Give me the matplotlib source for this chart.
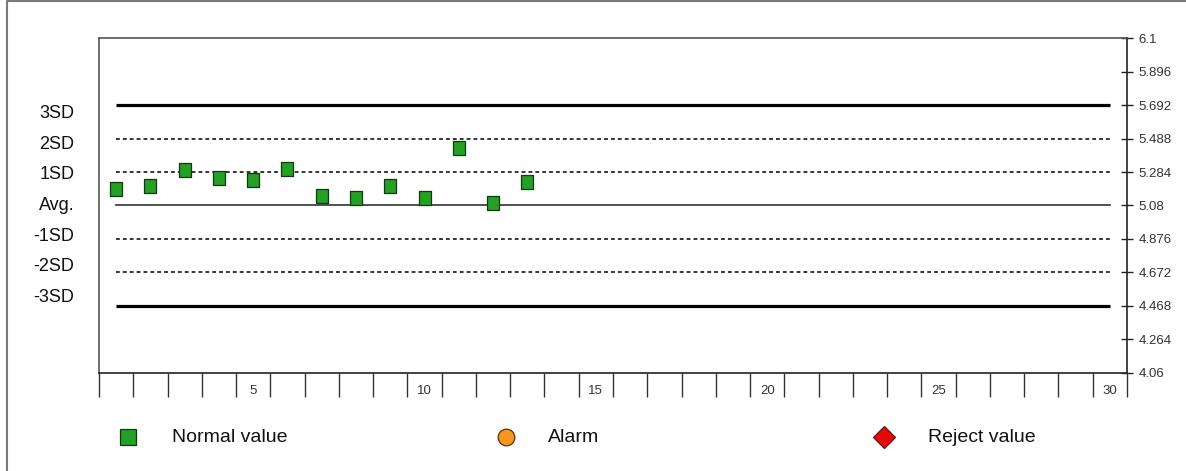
import matplotlib
matplotlib.use("Agg")
import matplotlib.pyplot as plt
import numpy as np

plt.rcParams['font.family'] = ['Liberation Sans', 'DejaVu Sans']

# ---- data ----
run_numbers = list(range(1, 14))
values = [5.182, 5.201, 5.295, 5.248, 5.237, 5.304, 5.136, 5.124, 5.201, 5.124, 5.429, 5.097, 5.221]
mean_value = 5.08
sd_value = 0.204
y_min, y_max = 4.06, 6.1
n_runs = 30
sd_labels = ["3SD", "2SD", "1SD", "Avg.", "-1SD", "-2SD", "-3SD"]
sd_multipliers = [3, 2, 1, 0, -1, -2, -3]
x_tick_labels = [5, 10, 15, 20, 25, 30]
legend_labels = ["Normal value", "Alarm", "Reject value"]

W, H = 1186, 471
fig = plt.figure(figsize=(W / 100, H / 100), dpi=100)
fig.patch.set_facecolor("white")

# axes placement (pixels)
left_px, right_px, top_px, bottom_px = 99, 1127, 38.3, 372.7
ax = fig.add_axes([left_px / W, 1 - bottom_px / H, (right_px - left_px) / W, (bottom_px - top_px) / H])
ax.set_xlim(0.5, n_runs + 0.5)
ax.set_ylim(y_min, y_max)

# spines
for s in ["top", "left"]:
    ax.spines[s].set_color("#555555")
    ax.spines[s].set_linewidth(1.2)
for s in ["bottom", "right"]:
    ax.spines[s].set_color("#222222")
    ax.spines[s].set_linewidth(1.2)

# right y axis ticks
yticks = np.round(np.linspace(y_min, y_max, 11), 3)
ax.yaxis.tick_right()
ax.set_yticks(yticks)
ax.set_yticklabels([f"{t:g}" for t in yticks])
ax.tick_params(axis="y", which="major", direction="inout", length=9, width=1, color="#222222",
               labelsize=9.5, labelcolor="#333333", pad=4)

# x axis: ticks at category boundaries, labels at centres
ax.set_xticks(np.arange(0.5, n_runs + 1, 1.0))
ax.set_xticklabels([])
ax.tick_params(axis="x", which="major", direction="out", length=17, width=1, color="#333333")
ax.set_xticks(x_tick_labels, minor=True)
ax.set_xticklabels([str(v) for v in x_tick_labels], minor=True)
ax.tick_params(axis="x", which="minor", length=0, labelsize=9.5, labelcolor="#333333", pad=9)

# control lines
x_line = [1, n_runs]
for m in sd_multipliers:
    yv = mean_value + m * sd_value
    if abs(m) == 3:
        ax.plot(x_line, [yv, yv], color="black", lw=2.3, solid_capstyle="butt")
    elif m == 0:
        ax.plot(x_line, [yv, yv], color="#333333", lw=1.2)
    else:
        ax.plot(x_line, [yv, yv], color="black", lw=1.1, linestyle=(0, (2.5, 2.0)))

# left SD labels (evenly spaced)
for lbl, m in zip(sd_labels, sd_multipliers):
    ax.text(-0.024, mean_value + m * sd_value * 0.915, lbl, transform=ax.get_yaxis_transform(),
            ha="right", va="center", fontsize=13, color="#111111")

# data points (tall green rectangles)
rect_marker = [(-0.45, -0.5), (0.45, -0.5), (0.45, 0.5), (-0.45, 0.5), (-0.45, -0.5)]
ax.plot(run_numbers, values, linestyle="none", marker=rect_marker, markersize=9.6,
        markerfacecolor="#24a024", markeredgecolor="#123812", markeredgewidth=0.9, zorder=5)

# overlay axes for legend and outer frame (pixel coordinates)
lax = fig.add_axes([0, 0, 1, 1], zorder=-1)
lax.set_xlim(0, W)
lax.set_ylim(H, 0)
lax.axis("off")
lax.plot([7, 7, W + 5], [H + 5, 1.2, 1.2], color="#7a7a7a", lw=1.5)

legend_y = 437
lax.plot([127.5], [legend_y], marker="s", markersize=11.5, markerfacecolor="#24a024",
         markeredgecolor="#123812", markeredgewidth=0.9)
lax.plot([506], [legend_y], marker="o", markersize=12, markerfacecolor="#f5961e",
         markeredgecolor="#5a3010", markeredgewidth=0.9)
lax.plot([884], [legend_y], marker="D", markersize=11.5, markerfacecolor="#e00c0c",
         markeredgecolor="#7a0a0a", markeredgewidth=0.9)
for lx, lbl in zip([172, 548, 928], legend_labels):
    lax.text(lx, legend_y, lbl, ha="left", va="center", fontsize=14, color="#111111")

fig.savefig("out.png", dpi=100, facecolor="white")
